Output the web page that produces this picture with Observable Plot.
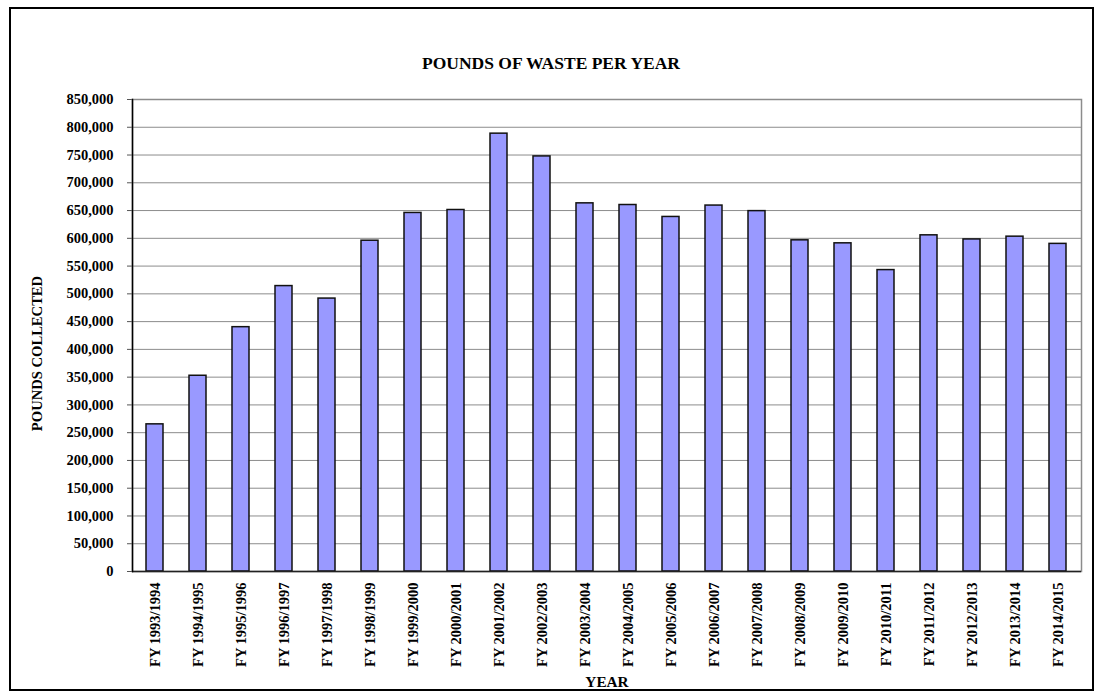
<!DOCTYPE html>
<html>
<head>
<meta charset="utf-8">
<script src="https://cdn.jsdelivr.net/npm/d3@7"></script>
<script src="https://cdn.jsdelivr.net/npm/@observablehq/plot@0.6"></script>
<style>
  html, body { margin: 0; padding: 0; background: white; }
  #wrap { position: relative; width: 1098px; height: 691px; overflow: hidden; }
  #border { position: absolute; left: 9px; top: 7px; width: 1081px; height: 680px; border: 2px solid black; pointer-events: none; }
</style>
</head>
<body>
<div id="wrap"><div id="border"></div></div>
<script>
const years = [
  "FY 1993/1994", "FY 1994/1995", "FY 1995/1996", "FY 1996/1997", "FY 1997/1998",
  "FY 1998/1999", "FY 1999/2000", "FY 2000/2001", "FY 2001/2002", "FY 2002/2003",
  "FY 2003/2004", "FY 2004/2005", "FY 2005/2006", "FY 2006/2007", "FY 2007/2008",
  "FY 2008/2009", "FY 2009/2010", "FY 2010/2011", "FY 2011/2012", "FY 2012/2013",
  "FY 2013/2014", "FY 2014/2015"
];
const pounds = [
  265000, 352500, 440000, 514000, 491500,
  595700, 645700, 651000, 788500, 747500,
  663000, 660000, 638500, 659000, 649000,
  596400, 591000, 542800, 605400, 598000,
  603000, 590000
];
const yTicks = [0, 50000, 100000, 150000, 200000, 250000, 300000, 350000, 400000,
  450000, 500000, 550000, 600000, 650000, 700000, 750000, 800000, 850000];
const titleText = "POUNDS OF WASTE PER YEAR";
const yLabel = "POUNDS COLLECTED";
const xLabel = "YEAR";

const data = years.map((y, i) => ({year: y, value: pounds[i]}));
const font = "'Liberation Serif', 'Times New Roman', Times, serif";

const chart = Plot.plot({
  width: 1098,
  height: 691,
  marginLeft: 132,
  marginRight: 17,
  marginTop: 99,
  marginBottom: 120,
  style: {fontFamily: font, fontSize: "14.5px", fontWeight: "bold", color: "black", background: "transparent"},
  x: {domain: years, paddingInner: 0.6, paddingOuter: 0.3, label: null},
  y: {domain: [0, 850000], label: null},
  marks: [
    Plot.gridY(yTicks, {stroke: "#8c8c8c", strokeOpacity: 1, strokeWidth: 1}),
    Plot.frame({stroke: "#8c8c8c", strokeWidth: 1.5}),
    Plot.barY(data, {x: "year", y: "value", fill: "#9999ff", stroke: "#111", strokeWidth: 1.5}),
    Plot.ruleY([0], {stroke: "#222", strokeWidth: 1.5}),
    Plot.frame({anchor: "left", stroke: "black", strokeWidth: 1.5}),
    Plot.axisY({ticks: yTicks, tickFormat: d3.format(","), tickSize: 5, tickPadding: 14, stroke: "#555", fontSize: "14.5px", label: null}),
    Plot.axisX({tickRotate: -90, tickSize: 0, tickPadding: 11, fontSize: "14.5px", label: null}),
    Plot.text([titleText], {frameAnchor: "top", lineAnchor: "middle", textAnchor: "middle", dx: -56, dy: -36, fontSize: 17.5, fontWeight: "bold", fill: "black"}),
    Plot.text([yLabel], {frameAnchor: "left", lineAnchor: "middle", textAnchor: "middle", rotate: -90, dx: -95, dy: 18, fontSize: 14.6, fontWeight: "bold", fill: "black"}),
    Plot.text([xLabel], {frameAnchor: "bottom", lineAnchor: "middle", textAnchor: "middle", dy: 111, fontSize: 15.3, fontWeight: "bold", fill: "black"})
  ]
});
document.getElementById("wrap").insertBefore(chart, document.getElementById("border"));
</script>
</body>
</html>
